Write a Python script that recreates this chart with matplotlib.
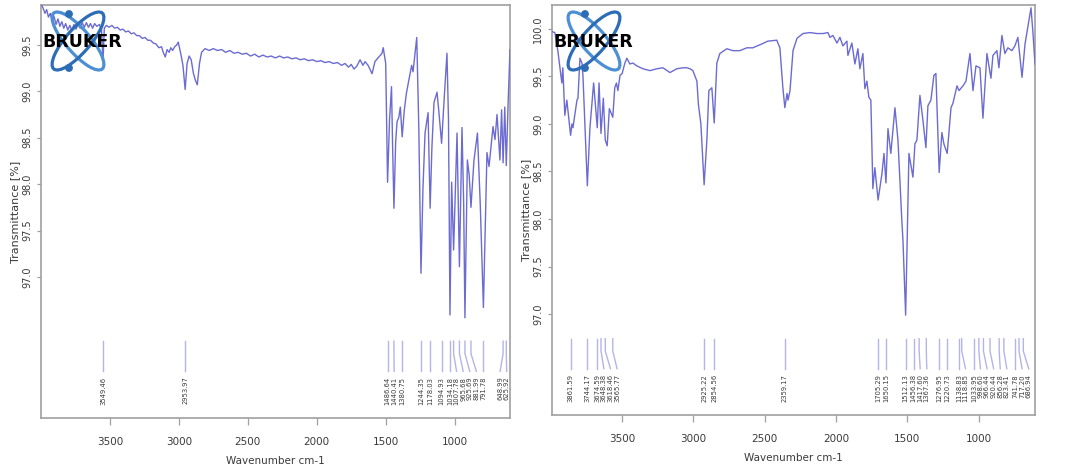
import matplotlib
matplotlib.use("Agg")
import matplotlib.pyplot as plt
import matplotlib.transforms as mtransforms
from matplotlib.patches import Ellipse, Circle
from matplotlib.ticker import FormatStrFormatter

W, H, DPI = 1065, 474, 100

# ---------------- data ----------------
left_wn = [3999, 3985, 3970, 3958, 3945, 3932, 3918, 3905, 3890, 3876, 3862, 3848, 3834,
           3820, 3805, 3790, 3776, 3760, 3745, 3730, 3715, 3700, 3685, 3670, 3655, 3640,
           3625, 3610, 3595, 3575, 3560, 3549.46, 3540, 3525, 3505, 3485, 3465, 3445, 3425,
           3405, 3385, 3365, 3345, 3325, 3305, 3285, 3265, 3245, 3225, 3205, 3185, 3165,
           3145, 3125, 3113, 3098, 3085, 3070, 3058, 3045, 3030, 3015, 3004, 2985, 2970,
           2953.97, 2940, 2925, 2910, 2895, 2880, 2866, 2850, 2835, 2810, 2780, 2750, 2720,
           2690, 2660, 2630, 2600, 2570, 2540, 2510, 2480, 2450, 2420, 2390, 2360, 2330,
           2300, 2270, 2240, 2210, 2180, 2150, 2120, 2090, 2060, 2030, 2000, 1970, 1940,
           1910, 1880, 1850, 1820, 1795, 1770, 1750, 1730, 1710, 1686, 1665, 1650, 1628,
           1599, 1578, 1556, 1527, 1518, 1500, 1486.64, 1472, 1458, 1450, 1440.41, 1428,
           1418, 1405, 1394, 1380.75, 1365, 1350, 1312, 1302, 1275, 1260, 1244.35, 1230,
           1215, 1193, 1178.03, 1165, 1150, 1128, 1114, 1094.93, 1075, 1056, 1045,
           1034.18, 1022, 1007.78, 983, 965.68, 947, 935, 925.69, 908, 895, 881.99, 860,
           835, 815, 791.78, 766, 751, 722, 708, 693, 672, 660, 648.99, 637, 625.92, 612,
           599]
left_T = [99.95, 99.90, 99.84, 99.88, 99.80, 99.84, 99.76, 99.81, 99.72, 99.78, 99.70,
          99.75, 99.68, 99.73, 99.66, 99.71, 99.66, 99.72, 99.67, 99.72, 99.68, 99.74,
          99.69, 99.74, 99.69, 99.73, 99.68, 99.73, 99.70, 99.72, 99.66, 99.32, 99.68,
          99.71, 99.69, 99.71, 99.68, 99.69, 99.66, 99.67, 99.64, 99.65, 99.62, 99.63,
          99.60, 99.60, 99.57, 99.58, 99.55, 99.55, 99.52, 99.51, 99.47, 99.48, 99.42,
          99.37, 99.45, 99.42, 99.47, 99.44, 99.48, 99.50, 99.53, 99.40, 99.28, 99.02,
          99.30, 99.38, 99.34, 99.20, 99.12, 99.07, 99.30, 99.42, 99.46, 99.44, 99.46,
          99.44, 99.45, 99.42, 99.44, 99.41, 99.42, 99.40, 99.41, 99.38, 99.40, 99.37,
          99.39, 99.37, 99.38, 99.36, 99.38, 99.36, 99.37, 99.35, 99.36, 99.34, 99.35,
          99.33, 99.34, 99.32, 99.33, 99.31, 99.32, 99.30, 99.31, 99.28, 99.30, 99.26,
          99.29, 99.24, 99.27, 99.34, 99.28, 99.32, 99.28, 99.19, 99.32, 99.36, 99.41,
          99.47, 99.30, 98.02, 98.70, 99.05, 98.40, 97.74, 98.45, 98.67, 98.72, 98.83,
          98.51, 98.80, 98.98, 99.28, 99.21, 99.58, 98.60, 97.04, 97.95, 98.55, 98.77,
          97.74, 98.40, 98.88, 98.99, 98.77, 98.44, 98.95, 99.41, 98.70, 96.59, 98.02,
          97.29, 98.55, 97.11, 98.61, 97.80, 96.56, 98.26, 98.10, 97.75, 98.26, 98.55,
          97.80, 96.67, 98.34, 98.19, 98.62, 98.48, 98.75, 98.26, 98.80, 98.23, 98.83,
          98.20, 98.90, 99.45]

right_wn = [3992, 3972, 3951, 3923, 3916, 3902, 3888, 3861.59, 3852, 3845, 3817, 3810,
            3796, 3782, 3775, 3744.17, 3726, 3700, 3674.59, 3662, 3648.38, 3632, 3618.46,
            3605, 3590, 3565.77, 3552, 3540, 3530, 3515, 3500, 3481, 3467, 3446, 3425,
            3397, 3355, 3305, 3256, 3214, 3165, 3116, 3074, 3046, 3025, 3004, 2976, 2965,
            2948, 2925.22, 2906, 2892, 2871, 2854.56, 2836, 2815, 2766, 2724, 2675, 2626,
            2584, 2521, 2479, 2416, 2394, 2373, 2359.17, 2344, 2337, 2323, 2302, 2274,
            2232, 2183, 2134, 2092, 2057, 2043, 2022, 1994, 1973, 1952, 1924, 1917, 1889,
            1868, 1847, 1833, 1812, 1798, 1784, 1770, 1756, 1742, 1728, 1705.29, 1678,
            1664, 1650.15, 1636, 1616, 1587, 1566, 1538, 1531, 1512.13, 1489, 1461, 1447,
            1433, 1412, 1391, 1370, 1356, 1335, 1314, 1300, 1276.95, 1258, 1244, 1220.73,
            1194, 1180, 1152, 1138, 1110, 1089, 1061, 1040, 1019, 991, 970, 942, 914, 900,
            872, 858, 837, 816, 795, 767, 746, 725, 696, 675, 654, 633, 619, 605]
right_T = [99.97, 99.96, 99.77, 99.43, 99.59, 99.09, 99.25, 98.88, 99.00, 98.96, 99.25,
           99.27, 99.69, 99.64, 99.51, 98.35, 98.96, 99.43, 98.96, 99.43, 98.90, 99.27,
           98.83, 98.77, 99.16, 99.07, 99.38, 99.43, 99.35, 99.51, 99.53, 99.64, 99.69,
           99.63, 99.64, 99.61, 99.58, 99.56, 99.58, 99.59, 99.54, 99.58, 99.59, 99.59,
           99.58, 99.56, 99.45, 99.20, 99.00, 98.36, 98.83, 99.35, 99.38, 99.01, 99.64,
           99.74, 99.79, 99.77, 99.77, 99.80, 99.80, 99.84, 99.87, 99.88, 99.80, 99.38,
           99.17, 99.32, 99.25, 99.35, 99.77, 99.90, 99.95, 99.96, 99.95, 99.95, 99.96,
           99.91, 99.93, 99.85, 99.91, 99.82, 99.87, 99.72, 99.85, 99.63, 99.79, 99.58,
           99.74, 99.37, 99.45, 99.28, 99.25, 98.32, 98.54, 98.20, 98.48, 98.69, 98.38,
           98.95, 98.69, 99.17, 98.83, 97.96, 97.78, 96.99, 98.69, 98.44, 98.79, 98.83,
           99.30, 99.04, 98.75, 99.19, 99.25, 99.51, 99.53, 98.49, 98.91, 98.79, 98.69,
           99.17, 99.22, 99.40, 99.35, 99.40, 99.45, 99.74, 99.35, 99.61, 99.59, 99.06,
           99.74, 99.48, 99.72, 99.77, 99.59, 99.93, 99.74, 99.80, 99.77, 99.82, 99.91,
           99.49, 99.84, 100.03, 100.22, 99.95, 99.63]

left_peak_labels = ["3549.46", "2953.97", "1486.64", "1440.41", "1380.75", "1244.35",
                    "1178.03", "1094.93", "1034.18", "1007.78", "965.68", "925.69",
                    "881.99", "791.78", "648.99", "625.92"]
right_peak_labels = ["3861.59", "3744.17", "3674.59", "3648.38", "3618.46", "3565.77",
                     "2925.22", "2854.56", "2359.17", "1705.29", "1650.15", "1512.13",
                     "1456.38", "1417.60", "1367.36", "1276.95", "1220.73", "1138.83",
                     "1118.85", "1033.95", "998.60", "966.44", "920.44", "856.28",
                     "823.41", "741.78", "717.20", "686.94"]

x_ticks = [3500, 3000, 2500, 2000, 1500, 1000]
left_y_ticks = [97.0, 97.5, 98.0, 98.5, 99.0, 99.5]
right_y_ticks = [97.0, 97.5, 98.0, 98.5, 99.0, 99.5, 100.0]

left_xlim = (3999, 599)
right_xlim = (3992, 605)
left_ylim = (95.48, 99.93)
right_ylim = (95.94, 100.25)

x_label = "Wavenumber cm-1"
y_label = "Transmittance [%]"

# ---------------- style ----------------
LINE = "#6b6bd2"
PEAKLINE = "#b4b4e8"
SPINE = "#a0a0a0"
TXT = "#3a3a3a"
NARROW = ["Liberation Sans Narrow", "DejaVu Sans"]

fig = plt.figure(figsize=(W / DPI, H / DPI), dpi=DPI)
fig.patch.set_facecolor("white")


def px_rect(x0, y0, x1, y1):
    return [x0 / W, 1 - y1 / H, (x1 - x0) / W, (y1 - y0) / H]


def spread(peaks, gap, lo):
    order = sorted(peaks, reverse=True)
    pos = []
    for p in order:
        if pos and p > pos[-1] - gap:
            pos.append(pos[-1] - gap)
        else:
            pos.append(p)
    if pos[-1] < lo:
        pos[-1] = lo
        for i in range(len(pos) - 2, -1, -1):
            if pos[i] < pos[i + 1] + gap:
                pos[i] = pos[i + 1] + gap
    return order, pos


def panel(rect, wn, T, xlim, ylim, yticks, labels, wpx, hpx):
    ax = fig.add_axes(rect)
    ax.plot(wn, T, color=LINE, lw=1.0, solid_joinstyle="round", zorder=3)
    ax.set_xlim(*xlim)
    ax.set_ylim(*ylim)
    ax.set_xticks(x_ticks)
    ax.set_yticks(yticks)
    ax.yaxis.set_major_formatter(FormatStrFormatter("%.1f"))
    for s in ax.spines.values():
        s.set_color(SPINE)
        s.set_linewidth(1.2)
    ax.tick_params(axis="x", direction="out", length=5, width=0.9, color=SPINE,
                   pad=8.5, labelsize=7.5, labelcolor=TXT)
    ax.tick_params(axis="y", direction="out", length=3, width=0.9, color=SPINE,
                   pad=3.5, labelsize=7, labelcolor=TXT, labelrotation=90)
    for t in ax.get_xticklabels():
        t.set_family(NARROW)
    for t in ax.get_yticklabels():
        t.set_family(NARROW)
        t.set_va("center")
    ax.set_xlabel(x_label, fontsize=7.5, color=TXT, family=NARROW)
    ax.xaxis.set_label_coords(0.5, -38 / hpx)
    ax.set_ylabel(y_label, fontsize=8, color=TXT, family="DejaVu Sans")
    ax.yaxis.label.set_va("center")
    ax.yaxis.set_label_coords(-26 / wpx, 0.5)

    # peak annotations
    peaks = [float(s) for s in labels]
    gap = (xlim[0] - xlim[1]) * 6.6 / wpx
    order, pos = spread(peaks, gap, xlim[1] + gap * 0.5)
    lab = {float(s): s for s in labels}
    tr = mtransforms.blended_transform_factory(ax.transData, ax.transAxes)
    y_top, y_bend, y_bot, y_txt = 0.186, 0.156, 0.113, 0.100
    for p, q in zip(order, pos):
        ax.plot([p, p, q], [y_top, y_bend, y_bot], transform=tr, color=PEAKLINE,
                lw=1.0, clip_on=False, zorder=2)
        ax.text(q, y_txt, lab[p], transform=tr, rotation=90, ha="center", va="top",
                fontsize=4.9, color=TXT, family="DejaVu Sans")
    return ax


ax1 = panel(px_rect(41, 5, 510, 418), left_wn, left_T, left_xlim, left_ylim,
            left_y_ticks, left_peak_labels, 469, 413)
ax2 = panel(px_rect(552, 5, 1035, 415), right_wn, right_T, right_xlim, right_ylim,
            right_y_ticks, right_peak_labels, 483, 410)

# ---------------- Bruker logos (decoration) ----------------
ov = fig.add_axes([0, 0, 1, 1], zorder=10)
ov.set_xlim(0, W)
ov.set_ylim(H, 0)
ov.axis("off")
ov.patch.set_alpha(0)


def logo(cx, cy, tx):
    ov.add_patch(Ellipse((cx, cy), 74, 24, angle=49, fill=False, ec="#4c8fd2", lw=2.3))
    ov.add_patch(Ellipse((cx, cy), 74, 24, angle=-49, fill=False, ec="#2d6db6", lw=2.3))
    ov.add_patch(Circle((cx - 9, cy - 27), 3.2, color="#2d6db6"))
    ov.add_patch(Circle((cx - 9, cy + 27), 3.2, color="#2d6db6"))
    ov.text(tx, cy + 1, "BRUKER", ha="center", va="center", fontsize=12.5,
            fontweight="heavy", color="black", family="DejaVu Sans")


logo(78, 41, 82)
logo(594, 41, 593)

fig.savefig("out.png", dpi=DPI, facecolor="white")
